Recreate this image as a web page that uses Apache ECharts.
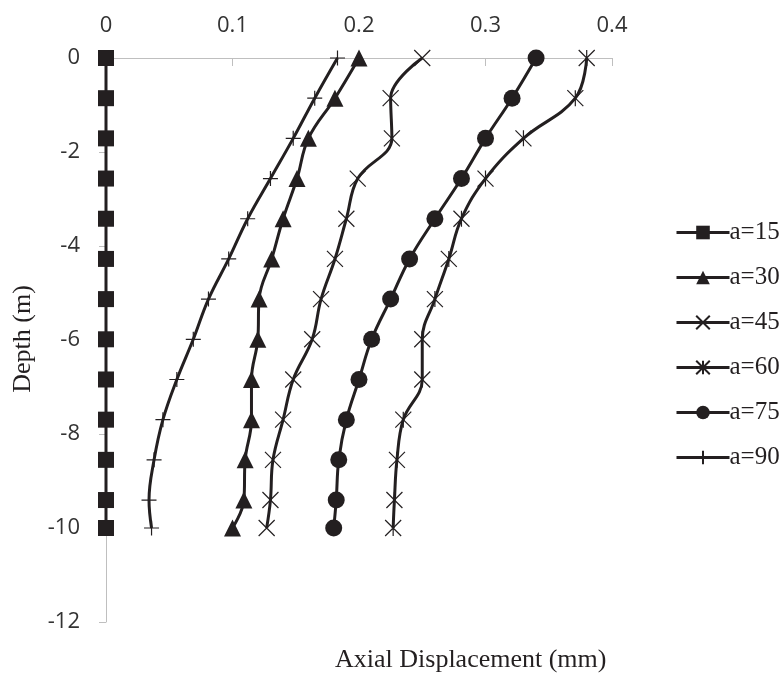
<!DOCTYPE html>
<html>
<head>
<meta charset="utf-8">
<title>Axial Displacement</title>
<script src="https://cdn.jsdelivr.net/npm/echarts@6/dist/echarts.min.js"></script>
<style>
  html, body { margin: 0; padding: 0; background: #fff; }
  #chart { width: 784px; height: 675px; }
</style>
</head>
<body>
<div id="chart"></div>
<script>
// depth of each reading point (m)
var depths = [0, -0.855, -1.71, -2.565, -3.42, -4.275, -5.13, -5.985, -6.84, -7.695, -8.55, -9.405, -10];

// axial displacement (mm) for each case
var a15 = [0, 0, 0, 0, 0, 0, 0, 0, 0, 0, 0, 0, 0];
var a30 = [0.2, 0.181, 0.16, 0.151, 0.14, 0.131, 0.121, 0.12, 0.115, 0.115, 0.11, 0.109, 0.1];
var a45 = [0.25, 0.225, 0.226, 0.199, 0.19, 0.181, 0.17, 0.163, 0.148, 0.14, 0.132, 0.13, 0.127];
var a60 = [0.38, 0.371, 0.33, 0.3, 0.281, 0.271, 0.26, 0.25, 0.25, 0.235, 0.23, 0.228, 0.227];
var a75 = [0.34, 0.321, 0.3, 0.281, 0.26, 0.24, 0.225, 0.21, 0.2, 0.19, 0.184, 0.182, 0.18];
var a90 = [0.183, 0.165, 0.148, 0.13, 0.112, 0.097, 0.081, 0.069, 0.056, 0.045, 0.038, 0.034, 0.036];

var seriesNames = ['a=15', 'a=30', 'a=45', 'a=60', 'a=75', 'a=90'];
var seriesValues = [a15, a30, a45, a60, a75, a90];

var ink = '#231f20';
var axisGray = '#bfbfbf';

// marker for each case, same order as seriesNames
var markers = [
  { symbol: 'rect', size: 16, filled: true },
  { symbol: 'triangle', size: 17, filled: true },
  { symbol: 'path://M0,0L10,10M10,0L0,10', size: 16, filled: false },
  { symbol: 'path://M0,0L10,10M10,0L0,10M5,0L5,10', size: 16, filled: false },
  { symbol: 'circle', size: 17, filled: true },
  { symbol: 'path://M0,5L10,5M5,0L5,10', size: 15, filled: false }
];

var chart = echarts.init(document.getElementById('chart'));

var series = [];
for (var i = 0; i < seriesNames.length; i++) {
  var pts = [];
  for (var j = 0; j < depths.length; j++) {
    pts.push([seriesValues[i][j], depths[j]]);
  }
  var m = markers[i];
  series.push({
    name: seriesNames[i],
    type: 'line',
    data: pts,
    smooth: 0.4,
    clip: false,
    symbol: m.symbol,
    symbolSize: m.size,
    showAllSymbol: true,
    lineStyle: { color: ink, width: 3 },
    itemStyle: m.filled
      ? { color: ink, borderWidth: 0 }
      : { color: ink, borderColor: ink, borderWidth: 1.2 },
    emphasis: { disabled: true }
  });
}

var option = {
  animation: false,
  backgroundColor: '#fff',
  grid: {
    left: 106,
    right: 172,
    top: 58,
    bottom: 53,
    containLabel: false
  },
  legend: {
    orient: 'vertical',
    left: 670,
    top: 215,
    itemWidth: 53,
    itemHeight: 17,
    itemGap: 20,
    data: seriesNames,
    lineStyle: { width: 3, color: ink },
    textStyle: {
      fontFamily: 'Liberation Serif',
      fontSize: 25,
      lineHeight: 25,
      color: ink,
      padding: [0, 0, 0, -5]
    }
  },
  xAxis: {
    type: 'value',
    position: 'top',
    min: 0,
    max: 0.4,
    interval: 0.1,
    axisLine: { show: true, lineStyle: { color: axisGray, width: 1 } },
    axisTick: { show: true, inside: true, length: 8, lineStyle: { color: axisGray } },
    axisLabel: {
      margin: 21,
      fontFamily: 'Open Sans',
      fontSize: 22,
      color: '#333'
    },
    splitLine: { show: false }
  },
  yAxis: {
    type: 'value',
    min: -12,
    max: 0,
    interval: 2,
    axisLine: { show: true, onZero: false, lineStyle: { color: axisGray, width: 1 } },
    axisTick: { show: true, length: 7, lineStyle: { color: axisGray } },
    axisLabel: {
      margin: 26,
      fontFamily: 'Open Sans',
      fontSize: 22,
      color: '#333'
    },
    splitLine: { show: false }
  },
  graphic: [
    {
      type: 'text',
      left: 335,
      top: 647,
      style: {
        text: 'Axial Displacement (mm)',
        font: '26px "Liberation Serif"',
        fill: ink
      }
    },
    {
      type: 'text',
      x: 23,
      y: 339,
      rotation: Math.PI / 2,
      style: {
        text: 'Depth (m)',
        font: '26px "Liberation Serif"',
        fill: ink,
        align: 'center',
        verticalAlign: 'middle'
      }
    }
  ],
  series: series
};

chart.setOption(option);
</script>
</body>
</html>
